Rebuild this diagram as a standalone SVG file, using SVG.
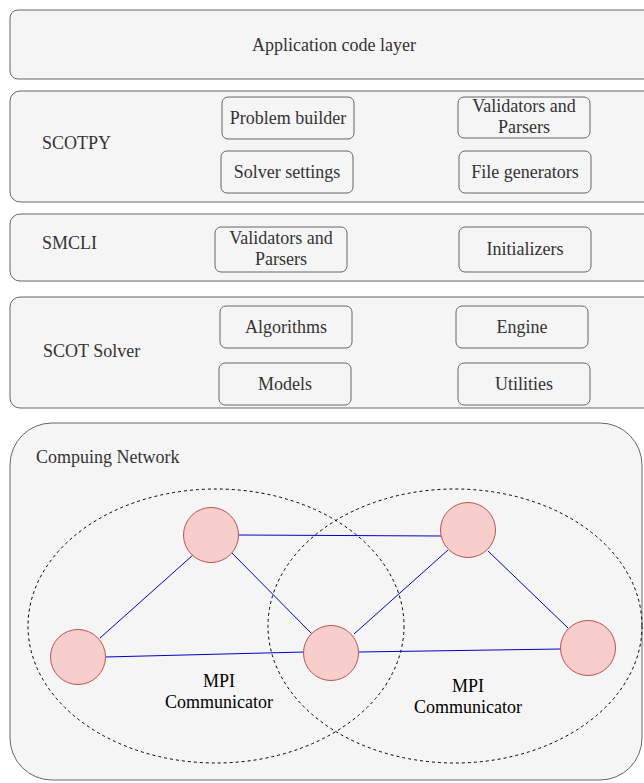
<svg xmlns="http://www.w3.org/2000/svg" width="644" height="783" viewBox="0 0 644 783" font-family="Liberation Serif, Times New Roman, serif">
<style>
.layer{fill:#f5f5f5;stroke:#666666;stroke-width:1}
.box{fill:#f5f5f5;stroke:#666666;stroke-width:1}
text{font-family:'Liberation Serif','Times New Roman',serif;font-size:18px;fill:#333333}
.c{text-anchor:middle}
.k{fill:#000000}
.node{fill:#f8cecc;stroke:#b85450;stroke-width:1}
.edge{stroke:#0000cc;stroke-width:1;fill:none}
.comm{fill:none;stroke:#000000;stroke-width:1;stroke-dasharray:3 3}
</style>
<rect width="644" height="783" fill="#ffffff"/>
<g id="app-layer">
<rect class="layer" x="10" y="10" width="650" height="69" rx="8"/>
<text class="c" x="334" y="51">Application code layer</text>
</g>
<g id="scotpy">
<rect class="layer" x="10" y="91" width="650" height="111" rx="10"/>
<text x="42" y="149">SCOTPY</text>
</g>
<g id="problem-builder">
<rect class="box" x="222" y="97" width="132" height="42" rx="6"/>
<text class="c" x="288" y="124">Problem builder</text>
</g>
<g id="validators-scotpy">
<rect class="box" x="458" y="97" width="132" height="41" rx="6"/>
<text class="c" x="524" y="112">Validators and</text>
<text class="c" x="524" y="133">Parsers</text>
</g>
<g id="solver-settings">
<rect class="box" x="221" y="151" width="132" height="42" rx="6"/>
<text class="c" x="287" y="178">Solver settings</text>
</g>
<g id="file-generators">
<rect class="box" x="459" y="151" width="132" height="42" rx="6"/>
<text class="c" x="525" y="178">File generators</text>
</g>
<g id="smcli">
<rect class="layer" x="10" y="214" width="650" height="67" rx="10"/>
<text x="42" y="249">SMCLI</text>
</g>
<g id="validators-smcli">
<rect class="box" x="215" y="227" width="132" height="45" rx="6"/>
<text class="c" x="281" y="244">Validators and</text>
<text class="c" x="281" y="265">Parsers</text>
</g>
<g id="initializers">
<rect class="box" x="459" y="227" width="132" height="45" rx="6"/>
<text class="c" x="525" y="255">Initializers</text>
</g>
<g id="scot-solver">
<rect class="layer" x="10" y="297" width="650" height="111" rx="10"/>
<text x="43" y="357">SCOT Solver</text>
</g>
<g id="algorithms">
<rect class="box" x="220" y="306" width="132" height="42" rx="6"/>
<text class="c" x="286" y="333">Algorithms</text>
</g>
<g id="engine">
<rect class="box" x="456" y="306" width="132" height="42" rx="6"/>
<text class="c" x="522" y="333">Engine</text>
</g>
<g id="models">
<rect class="box" x="219" y="363" width="132" height="42" rx="6"/>
<text class="c" x="285" y="390">Models</text>
</g>
<g id="utilities">
<rect class="box" x="458" y="363" width="132" height="42" rx="6"/>
<text class="c" x="524" y="390">Utilities</text>
</g>
<g id="computing-network">
<rect class="layer" x="10" y="423" width="632" height="357" rx="42"/>
<text x="36" y="463">Compuing Network</text>
</g>
<g id="comm-left">
<ellipse class="comm" cx="216" cy="626" rx="188" ry="137"/>
<text class="c k" x="219" y="687">MPI</text>
<text class="c k" x="219" y="708">Communicator</text>
</g>
<g id="comm-right">
<ellipse class="comm" cx="455" cy="626" rx="187" ry="137"/>
<text class="c k" x="468" y="692">MPI</text>
<text class="c k" x="468" y="713">Communicator</text>
</g>
<g id="connectors">
<line class="edge" x1="239" y1="535" x2="441" y2="536"/>
<line class="edge" x1="193" y1="555" x2="100" y2="638"/>
<line class="edge" x1="232" y1="553" x2="312" y2="634"/>
<line class="edge" x1="105" y1="657" x2="304" y2="652"/>
<line class="edge" x1="354" y1="634" x2="448" y2="550"/>
<line class="edge" x1="359" y1="652" x2="561" y2="649"/>
<line class="edge" x1="488" y1="551" x2="568" y2="628"/>
</g>
<g id="node-1"><ellipse class="node" cx="211" cy="535" rx="27.5" ry="27.5"/></g>
<g id="node-2"><ellipse class="node" cx="468" cy="530" rx="27.5" ry="27.5"/></g>
<g id="node-3"><ellipse class="node" cx="78" cy="657" rx="27.5" ry="27.5"/></g>
<g id="node-4"><ellipse class="node" cx="331" cy="653" rx="27.5" ry="27.5"/></g>
<g id="node-5"><ellipse class="node" cx="588" cy="648" rx="27.5" ry="27.5"/></g>
</svg>
